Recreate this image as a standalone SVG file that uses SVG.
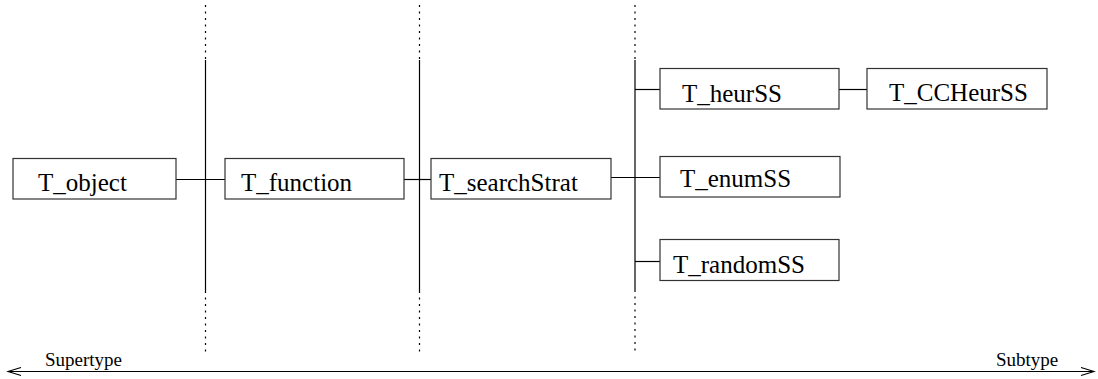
<svg xmlns="http://www.w3.org/2000/svg" width="1098" height="379" viewBox="0 0 1098 379">
  <defs>
    <style>
      .box { fill: #ffffff; stroke: #333333; stroke-width: 1.2; }
      .lbl { font-family: "Liberation Serif", "Times New Roman", serif; font-size: 25px; fill: #000000; }
      .axis-lbl { font-family: "Liberation Serif", "Times New Roman", serif; font-size: 19px; fill: #000000; }
      .solid { stroke: #000000; stroke-width: 1.2; fill: none; }
      .dotted { stroke: #000000; stroke-width: 1.2; stroke-dasharray: 2 4.5; fill: none; }
    </style>
    <marker id="openArrow" markerWidth="16" markerHeight="10" refX="14" refY="5" orient="auto-start-reverse" markerUnits="userSpaceOnUse">
      <path d="M1,1 L14,5 L1,9" fill="none" stroke="#000000" stroke-width="1.1"/>
    </marker>
  </defs>

  <!-- level separators and connectors -->
  <g id="connectors">
    <!-- separator 1 -->
    <line class="dotted" x1="205.5" y1="5" x2="205.5" y2="60"/>
    <line class="solid" x1="205.5" y1="60" x2="205.5" y2="291"/>
    <line class="dotted" x1="205.5" y1="291" x2="205.5" y2="355"/>
    <!-- separator 2 -->
    <line class="dotted" x1="419.5" y1="5" x2="419.5" y2="60"/>
    <line class="solid" x1="419.5" y1="60" x2="419.5" y2="291"/>
    <line class="dotted" x1="419.5" y1="291" x2="419.5" y2="355"/>
    <!-- separator 3 -->
    <line class="dotted" x1="635" y1="5" x2="635" y2="60"/>
    <line class="solid" x1="635" y1="60" x2="635" y2="290"/>
    <line class="dotted" x1="635" y1="290" x2="635" y2="352"/>

    <!-- T_object -> T_function -->
    <line class="solid" x1="176" y1="179.5" x2="225" y2="179.5"/>
    <!-- T_function -> T_searchStrat -->
    <line class="solid" x1="404" y1="179.5" x2="431" y2="179.5"/>
    <!-- T_searchStrat -> subtypes -->
    <line class="solid" x1="611" y1="177.5" x2="660" y2="177.5"/>
    <line class="solid" x1="635" y1="89.5" x2="660" y2="89.5"/>
    <line class="solid" x1="635" y1="261.5" x2="660" y2="261.5"/>
    <!-- T_heurSS -> T_CCHeurSS -->
    <line class="solid" x1="839" y1="89.5" x2="867" y2="89.5"/>

    <!-- supertype / subtype axis -->
    <line class="solid" x1="8" y1="371.5" x2="1094" y2="371.5" marker-start="url(#openArrow)" marker-end="url(#openArrow)"/>
  </g>

  <g id="node-object">
    <rect class="box" x="13" y="158.5" width="163" height="40.5"/>
    <text class="lbl" x="38" y="191">T_object</text>
  </g>

  <g id="node-function">
    <rect class="box" x="225" y="158.5" width="179" height="40.5"/>
    <text class="lbl" x="241" y="191">T_function</text>
  </g>

  <g id="node-searchStrat">
    <rect class="box" x="431" y="158.5" width="180" height="40.5"/>
    <text class="lbl" x="439" y="191">T_searchStrat</text>
  </g>

  <g id="node-heurSS">
    <rect class="box" x="660" y="68.5" width="179" height="40.5"/>
    <text class="lbl" x="682" y="101.5">T_heurSS</text>
  </g>

  <g id="node-CCHeurSS">
    <rect class="box" x="867" y="68.5" width="180" height="40.5"/>
    <text class="lbl" x="889" y="101">T_CCHeurSS</text>
  </g>

  <g id="node-enumSS">
    <rect class="box" x="660" y="156.5" width="180" height="40.5"/>
    <text class="lbl" x="680" y="187">T_enumSS</text>
  </g>

  <g id="node-randomSS">
    <rect class="box" x="660" y="239.5" width="179" height="41"/>
    <text class="lbl" x="673" y="273">T_randomSS</text>
  </g>

  <g id="axis-labels">
    <text class="axis-lbl" x="45" y="366">Supertype</text>
    <text class="axis-lbl" x="996" y="366">Subtype</text>
  </g>
</svg>
